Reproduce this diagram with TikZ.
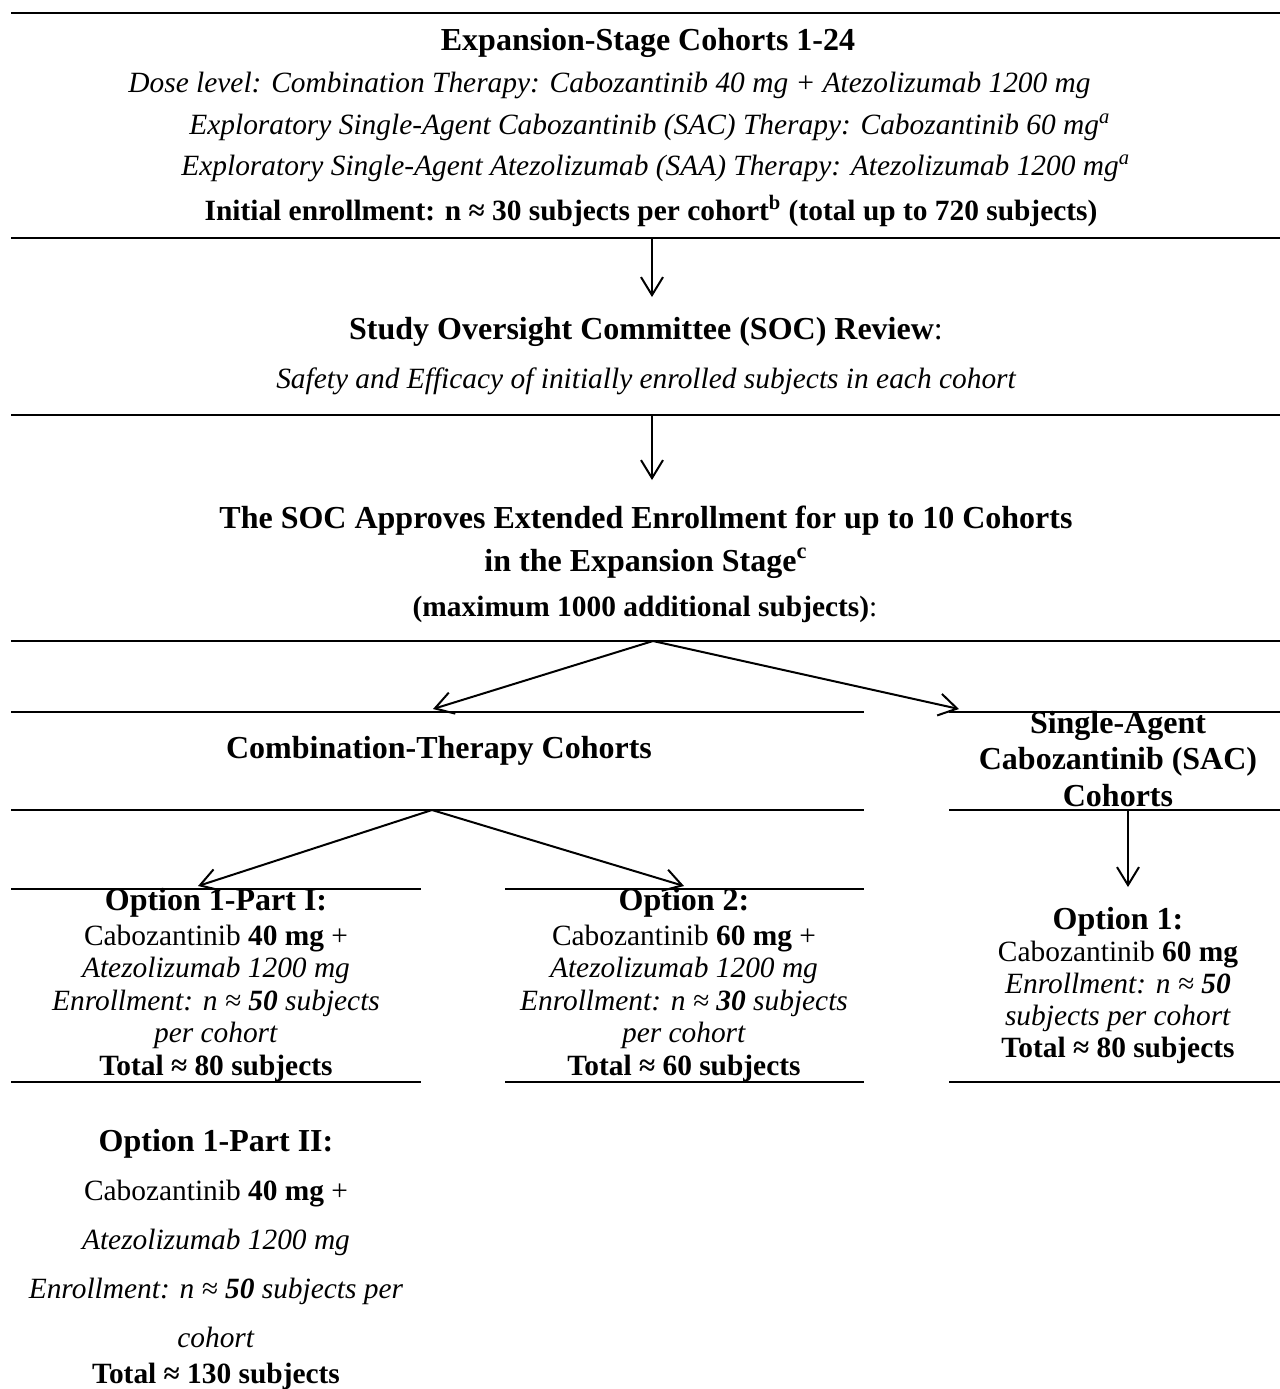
\documentclass[tikz,border=0pt]{standalone}
\usepackage{fontspec}
\setmainfont{Liberation Serif}
\usetikzlibrary{arrows.meta,positioning}
\newcommand{\bodysize}{\fontsize{14.7}{16.9}\selectfont}
\newcommand{\headsize}{\fontsize{16}{18.4}\selectfont\bfseries}
\tikzset{
  >={Straight Barb[length=9pt,width=11pt]},
  rule/.style={line width=1.1pt,draw=black},
  flow/.style={->,line width=1pt,draw=black},
  hd/.style={font=\headsize,inner sep=0pt,align=center},
  bd/.style={font=\bodysize,inner sep=0pt,align=center},
  itl/.style={bd,font=\bodysize\itshape},
  optbody/.style={bd,font=\fontsize{14.7}{16.25}\selectfont}
}
\begin{document}
\begin{tikzpicture}[x=.5pt,y=-.5pt]
  \useasboundingbox (0,0) rectangle (1280,1389);
  % rules
  \draw[rule] (11,13) -- (1280,13);
  \draw[rule] (11,238) -- (1280,238);
  \draw[rule] (11,415) -- (1280,415);
  \draw[rule] (11,641) -- (1280,641);
  \draw[rule] (11,712) -- (864,712) (949,712) -- (1280,712);
  \draw[rule] (11,810) -- (864,810) (949,810) -- (1280,810);
  \draw[rule] (11,889) -- (421,889) (505,889) -- (864,889);
  \draw[rule] (11,1082) -- (421,1082) (505,1082) -- (864,1082) (949,1082) -- (1280,1082);
  % expansion stage
  \node[hd] (exp) at (648,43) {Expansion-Stage Cohorts 1-24};
  \node[itl,anchor=west] (dose) at (128,85) {Dose level: Combination Therapy: Cabozantinib 40 mg + Atezolizumab 1200 mg};
  \node[itl,anchor=west] (expsac) at (189,127) {Exploratory Single-Agent Cabozantinib (SAC) Therapy: Cabozantinib 60 mg\textsuperscript{a}};
  \node[itl,anchor=west] (expsaa) at (181,168) {Exploratory Single-Agent Atezolizumab (SAA) Therapy: Atezolizumab 1200 mg\textsuperscript{a}};
  \node[bd,font=\bodysize\bfseries] (init) at (651,211) {Initial enrollment: n ≈ 30 subjects per cohort\textsuperscript{b} (total up to 720 subjects)};
  % review
  \node[hd] (soc) at (646,332) {Study Oversight Committee (SOC) Review\textmd{:}};
  \node[itl] (safety) at (646,381) {Safety and Efficacy of initially enrolled subjects in each cohort};
  % approval
  \node[hd,font=\fontsize{16}{21.5}\selectfont\bfseries] (appr) at (646,542) {The SOC Approves Extended Enrollment for up to 10 Cohorts\\in the Expansion Stage\textsuperscript{c}};
  \node[bd,font=\bodysize\bfseries] (maxn) at (645,609) {(maximum 1000 additional subjects)\textmd{:}};
  % cohorts
  \node[hd] (comb) at (439,751) {Combination-Therapy Cohorts};
  \node[hd,font=\fontsize{16}{18.25}\selectfont\bfseries] (sac) at (1118,759) {Single-Agent\\Cabozantinib (SAC)\\Cohorts};
  % options
  \node[hd] (opt1h) at (216,903) {Option 1-Part I:};
  \node[optbody] (opt1) at (216,1003) {Cabozantinib \textbf{40 mg} +\\\textit{Atezolizumab 1200 mg}\\\textit{Enrollment: n ≈ \textbf{50} subjects}\\\textit{per cohort}\\\textbf{Total ≈ 80 subjects}};
  \node[hd] (opt2h) at (684,903) {Option 2:};
  \node[optbody] (opt2) at (684,1003) {Cabozantinib \textbf{60 mg} +\\\textit{Atezolizumab 1200 mg}\\\textit{Enrollment: n ≈ \textbf{30} subjects}\\\textit{per cohort}\\\textbf{Total ≈ 60 subjects}};
  \node[hd] (sach) at (1118,922) {Option 1:};
  \node[optbody,font=\fontsize{14.7}{16}\selectfont] (sacopt) at (1118,1002) {Cabozantinib \textbf{60 mg}\\\textit{Enrollment: n ≈ \textbf{50}}\\\textit{subjects per cohort}\\\textbf{Total ≈ 80 subjects}};
  \node[hd] (opt1iih) at (216,1144) {Option 1-Part II:};
  \node[optbody,font=\fontsize{14.7}{24.5}\selectfont] (opt1ii) at (216,1285) {Cabozantinib \textbf{40 mg} +\\\textit{Atezolizumab 1200 mg}\\\textit{Enrollment: n ≈ \textbf{50} subjects per}\\\textit{cohort}\\[-6.5pt]\textbf{Total ≈ 130 subjects}};
  % arrow ends
  \coordinate (r1) at (652,238);  \coordinate (t1) at (652,297);
  \coordinate (r2) at (652,415);  \coordinate (t2) at (652,480);
  \coordinate (r3) at (653,641);  \coordinate (t3a) at (433,709);  \coordinate (t3b) at (959,709);
  \coordinate (r4) at (432,810);  \coordinate (t4a) at (198,886);  \coordinate (t4b) at (684,886);
  \coordinate (r5) at (1128,810); \coordinate (t5) at (1128,887);
  \draw[flow] (r1) -- (t1);
  \draw[flow] (r2) -- (t2);
  \draw[flow] (r3) -- (t3a);
  \draw[flow] (r3) -- (t3b);
  \draw[flow] (r4) -- (t4a);
  \draw[flow] (r4) -- (t4b);
  \draw[flow] (r5) -- (t5);
\end{tikzpicture}
\end{document}
